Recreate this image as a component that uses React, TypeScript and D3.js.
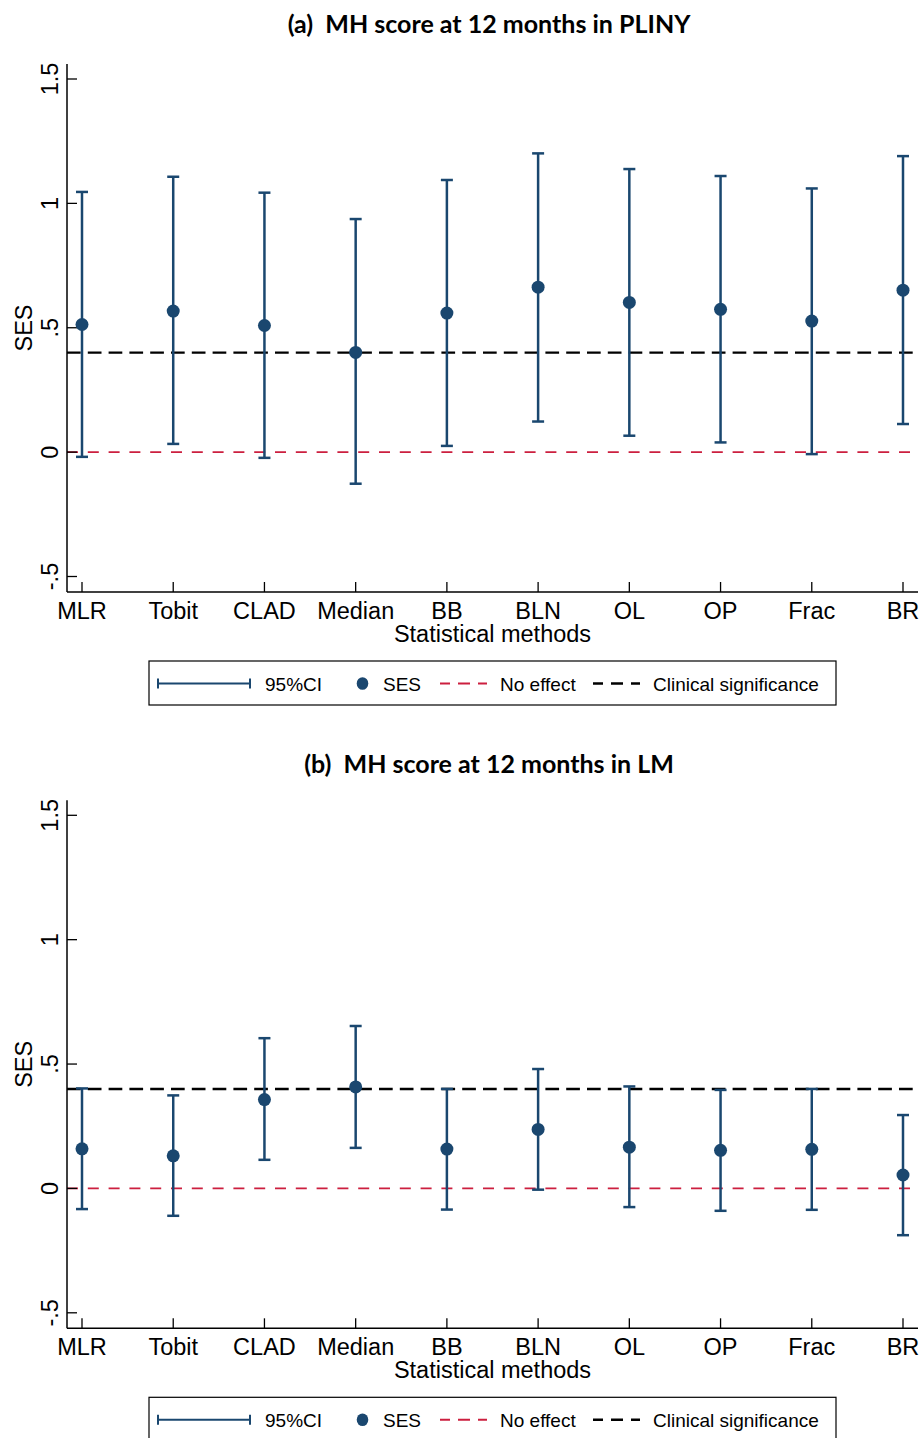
import React from 'react';
import * as d3 from 'd3';

const methods = ['MLR', 'Tobit', 'CLAD', 'Median', 'BB', 'BLN', 'OL', 'OP', 'Frac', 'BR'];
const sesA = [0.513, 0.567, 0.509, 0.401, 0.559, 0.663, 0.602, 0.574, 0.527, 0.651];
const lowerA = [-0.019, 0.033, -0.023, -0.127, 0.025, 0.123, 0.066, 0.039, -0.008, 0.113];
const upperA = [1.046, 1.107, 1.043, 0.937, 1.094, 1.201, 1.138, 1.110, 1.060, 1.190];
const sesB = [0.159, 0.131, 0.357, 0.408, 0.158, 0.237, 0.166, 0.153, 0.157, 0.054];
const lowerB = [-0.083, -0.110, 0.115, 0.163, -0.085, -0.005, -0.075, -0.090, -0.086, -0.188];
const upperB = [0.402, 0.374, 0.604, 0.653, 0.400, 0.480, 0.410, 0.396, 0.400, 0.295];
const yTicks = [-0.5, 0, 0.5, 1, 1.5];
const yTickLabels = ['-.5', '0', '.5', '1', '1.5'];
const noEffect = 0;
const clinical = 0.4;
const titleA = '(a)  MH score at 12 months in PLINY';
const titleB = '(b)  MH score at 12 months in LM';
const legendLabels = ['95%CI', 'SES', 'No effect', 'Clinical significance'];

const NAVY = '#1a476f';
const RED = '#cc1f3f';
const FONT = '"Liberation Sans", Arial, sans-serif';

function Panel({ top, titleY, title, ses, lower, upper }) {
  const x = d3.scalePoint().domain(methods).range([82, 903]);
  const y = d3.scaleLinear().domain([-0.5, 1.5]).range([top + 576.5, top + 79]);
  const axisX = 67;
  const axisRight = 918;
  const axisTop = top + 64;
  const axisBottom = top + 592;
  const lg = top + 683.5;
  return (
    <g>
      <text x={489} y={titleY} textAnchor="middle" fontFamily='Lato, "Open Sans", sans-serif' fontWeight="bold" fontSize={25} style={{ whiteSpace: 'pre' }}>{title}</text>
      {/* reference lines */}
      <line x1={axisX} x2={axisRight} y1={y(noEffect)} y2={y(noEffect)} stroke={RED} strokeWidth={1.8} strokeDasharray="11,9.8" />
      <line x1={axisX} x2={axisRight} y1={y(clinical)} y2={y(clinical)} stroke="#000" strokeWidth={2.4} strokeDasharray="13.7,7.1" />
      {/* axes */}
      <line x1={axisX} x2={axisX} y1={axisTop} y2={axisBottom} stroke="#000" strokeWidth={1.5} />
      <line x1={axisX} x2={axisRight} y1={axisBottom} y2={axisBottom} stroke="#000" strokeWidth={1.5} />
      {yTicks.map((t, i) => (
        <g key={'yt' + i}>
          <line x1={axisX} x2={axisX + 10} y1={y(t)} y2={y(t)} stroke="#000" strokeWidth={1.3} />
          <text transform={`translate(58.3,${y(t)}) rotate(-90)`} textAnchor="middle" fontFamily={FONT} fontSize={23.5}>{yTickLabels[i]}</text>
        </g>
      ))}
      <text transform={`translate(32,${(axisTop + axisBottom) / 2}) rotate(-90)`} textAnchor="middle" fontFamily={FONT} fontSize={23.5}>SES</text>
      {methods.map((m) => (
        <g key={'xt' + m}>
          <line x1={x(m)} x2={x(m)} y1={axisBottom} y2={axisBottom - 10} stroke="#000" strokeWidth={1.3} />
          <text x={x(m)} y={top + 618.5} textAnchor="middle" fontFamily={FONT} fontSize={23.5}>{m}</text>
        </g>
      ))}
      <text x={(axisX + axisRight) / 2} y={top + 641.8} textAnchor="middle" fontFamily={FONT} fontSize={23.5}>Statistical methods</text>
      {/* error bars */}
      {methods.map((m, i) => (
        <g key={'ci' + m} stroke={NAVY} strokeWidth={2.5}>
          <line x1={x(m)} x2={x(m)} y1={y(lower[i])} y2={y(upper[i])} />
          <line x1={x(m) - 6} x2={x(m) + 6} y1={y(lower[i])} y2={y(lower[i])} />
          <line x1={x(m) - 6} x2={x(m) + 6} y1={y(upper[i])} y2={y(upper[i])} />
        </g>
      ))}
      {methods.map((m, i) => (
        <circle key={'pt' + m} cx={x(m)} cy={y(ses[i])} r={6.5} fill={NAVY} />
      ))}
      {/* legend */}
      <rect x={149} y={top + 661} width={687} height={44} fill="none" stroke="#000" strokeWidth={1.2} />
      <g stroke={NAVY} strokeWidth={2}>
        <line x1={158} x2={250} y1={lg} y2={lg} />
        <line x1={158} x2={158} y1={lg - 5} y2={lg + 5} />
        <line x1={250} x2={250} y1={lg - 5} y2={lg + 5} />
      </g>
      <text x={265} y={top + 691} fontFamily={FONT} fontSize={19}>{legendLabels[0]}</text>
      <ellipse cx={362.5} cy={lg} rx={5.8} ry={6.3} fill={NAVY} />
      <text x={383} y={top + 691} fontFamily={FONT} fontSize={19}>{legendLabels[1]}</text>
      <line x1={440} x2={487} y1={lg} y2={lg} stroke={RED} strokeWidth={2} strokeDasharray="10,8,12,8,10" />
      <text x={500} y={top + 691} fontFamily={FONT} fontSize={19}>{legendLabels[2]}</text>
      <line x1={593} x2={640} y1={lg} y2={lg} stroke="#000" strokeWidth={2.4} strokeDasharray="10,8,12,8,10" />
      <text x={653} y={top + 691} fontFamily={FONT} fontSize={19}>{legendLabels[3]}</text>
    </g>
  );
}

export default function App() {
  return (
    <svg width={922} height={1438} style={{ position: 'absolute', left: 0, top: 0, background: '#fff' }}>
      <rect x={0} y={0} width={922} height={1438} fill="#fff" />
      <Panel top={0} titleY={33.3} title={titleA} ses={sesA} lower={lowerA} upper={upperA} />
      <Panel top={736.3} titleY={773} title={titleB} ses={sesB} lower={lowerB} upper={upperB} />
    </svg>
  );
}
